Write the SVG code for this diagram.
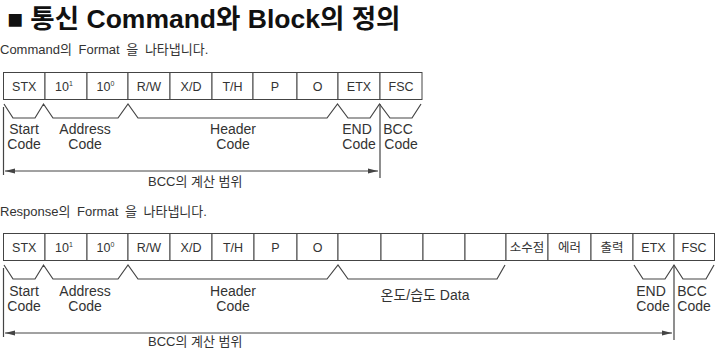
<svg xmlns="http://www.w3.org/2000/svg" width="715" height="350" viewBox="0 0 715 350">
<style>
  text { font-family: "Liberation Sans", "Noto Sans CJK KR", sans-serif; fill: #333; }
  .title { font-size: 26.5px; font-weight: bold; fill: #111; }
  .sub { font-size: 13px; word-spacing: 3px; }
  .cell rect { fill: #fff; stroke: #444; stroke-width: 1; }
  .cell text { font-size: 12.5px; text-anchor: middle; }
  .lbl { font-size: 14px; text-anchor: middle; }
  .rng { font-size: 13px; }
  .brace { fill: none; stroke: #444; stroke-width: 1.2; stroke-linejoin: miter; }
  .line { fill: none; stroke: #444; stroke-width: 1.2; }
  .arr { fill: none; stroke: #444; stroke-width: 1; }
</style>
<defs>
  <marker id="ah" viewBox="0 0 10 6" refX="10" refY="3" markerWidth="10" markerHeight="6" markerUnits="userSpaceOnUse" orient="auto-start-reverse">
    <path d="M0,0.5 L10,3 L0,5.5 Z" fill="#444"/>
  </marker>
</defs>

<text class="title" x="7" y="28">■ 통신 Command와 Block의 정의</text>
<text class="sub" x="0" y="54">Command의 Format 을 나타냅니다.</text>
<text class="sub" x="0" y="216">Response의 Format 을 나타냅니다.</text>

<!-- Command row -->
<g id="cmd-stx" class="cell"><rect x="3.5" y="72.5" width="41.5" height="27"/><text x="24.25" y="91">STX</text></g>
<g id="cmd-101" class="cell"><rect x="45" y="72.5" width="42" height="27"/><text x="64" y="91">10<tspan dy="-5" font-size="7">1</tspan></text></g>
<g id="cmd-100" class="cell"><rect x="87" y="72.5" width="41" height="27"/><text x="105.5" y="91">10<tspan dy="-5" font-size="7">0</tspan></text></g>
<g id="cmd-rw" class="cell"><rect x="128" y="72.5" width="42" height="27"/><text x="149" y="91">R/W</text></g>
<g id="cmd-xd" class="cell"><rect x="170" y="72.5" width="42" height="27"/><text x="191" y="91">X/D</text></g>
<g id="cmd-th" class="cell"><rect x="212" y="72.5" width="41" height="27"/><text x="232.5" y="91">T/H</text></g>
<g id="cmd-p" class="cell"><rect x="253" y="72.5" width="44" height="27"/><text x="275" y="91">P</text></g>
<g id="cmd-o" class="cell"><rect x="297" y="72.5" width="41" height="27"/><text x="317.5" y="91">O</text></g>
<g id="cmd-etx" class="cell"><rect x="338" y="72.5" width="42" height="27"/><text x="359" y="91">ETX</text></g>
<g id="cmd-fsc" class="cell"><rect x="380" y="72.5" width="42" height="27"/><text x="401" y="91">FSC</text></g>

<!-- Response row -->
<g id="rsp-stx" class="cell"><rect x="3.5" y="233.5" width="41.5" height="27"/><text x="24.25" y="252">STX</text></g>
<g id="rsp-101" class="cell"><rect x="45" y="233.5" width="42" height="27"/><text x="64" y="252">10<tspan dy="-5" font-size="7">1</tspan></text></g>
<g id="rsp-100" class="cell"><rect x="87" y="233.5" width="41" height="27"/><text x="105.5" y="252">10<tspan dy="-5" font-size="7">0</tspan></text></g>
<g id="rsp-rw" class="cell"><rect x="128" y="233.5" width="42" height="27"/><text x="149" y="252">R/W</text></g>
<g id="rsp-xd" class="cell"><rect x="170" y="233.5" width="42" height="27"/><text x="191" y="252">X/D</text></g>
<g id="rsp-th" class="cell"><rect x="212" y="233.5" width="42" height="27"/><text x="233" y="252">T/H</text></g>
<g id="rsp-p" class="cell"><rect x="254" y="233.5" width="43" height="27"/><text x="275.5" y="252">P</text></g>
<g id="rsp-o" class="cell"><rect x="297" y="233.5" width="41" height="27"/><text x="317.5" y="252">O</text></g>
<g id="rsp-d1" class="cell"><rect x="338" y="233.5" width="43" height="27"/></g>
<g id="rsp-d2" class="cell"><rect x="381" y="233.5" width="42" height="27"/></g>
<g id="rsp-d3" class="cell"><rect x="423" y="233.5" width="42" height="27"/></g>
<g id="rsp-d4" class="cell"><rect x="465" y="233.5" width="41" height="27"/></g>
<g id="rsp-dec" class="cell"><rect x="506" y="233.5" width="42" height="27"/><text x="527" y="252">소수점</text></g>
<g id="rsp-err" class="cell"><rect x="548" y="233.5" width="43" height="27"/><text x="569.5" y="252">에러</text></g>
<g id="rsp-out" class="cell"><rect x="591" y="233.5" width="42" height="27"/><text x="612" y="252">출력</text></g>
<g id="rsp-etx" class="cell"><rect x="633" y="233.5" width="41" height="27"/><text x="653.5" y="252">ETX</text></g>
<g id="rsp-fsc" class="cell"><rect x="674" y="233.5" width="40.5" height="27"/><text x="694" y="252">FSC</text></g>

<!-- Connectors: braces and range arrows -->
<g id="connectors">
  <path class="brace" d="M4,104 L13,118 L35,118 L43.5,104 L53,118 L118,118 L128,104 L138,118 L327,118 L337.5,104 L348,118 L370,118 L379.5,104 L390,118 L412,118 L421,104"/>
  <path class="line" d="M3.5,107 V175"/>
  <path class="line" d="M380,104 V178"/>
  <path class="arr" d="M5,171 H378" marker-start="url(#ah)" marker-end="url(#ah)"/>

  <path class="brace" d="M4,265 L13,279 L35,279 L43.5,265 L53,279 L118,279 L128,265 L138,279 L327,279 L338,265 L348,279 L497,279 L505,265"/>
  <path class="brace" d="M634,265 L643,279 L665,279 L674,265 L683,279 L706,279 L714,265"/>
  <path class="line" d="M3.5,268 V337"/>
  <path class="line" d="M674,265 V340"/>
  <path class="arr" d="M5,333 H672" marker-start="url(#ah)" marker-end="url(#ah)"/>
</g>

<!-- Labels -->
<g id="labels-cmd">
  <text class="lbl" x="24" y="134">Start</text><text class="lbl" x="24" y="149">Code</text>
  <text class="lbl" x="85" y="134">Address</text><text class="lbl" x="85" y="149">Code</text>
  <text class="lbl" x="233" y="134">Header</text><text class="lbl" x="233" y="149">Code</text>
  <text class="lbl" x="357" y="134">END</text><text class="lbl" x="359" y="149">Code</text>
  <text class="lbl" x="398" y="134">BCC</text><text class="lbl" x="401" y="149">Code</text>
  <text class="rng" x="148" y="186">BCC의 계산 범위</text>
</g>
<g id="labels-rsp">
  <text class="lbl" x="24" y="296">Start</text><text class="lbl" x="24" y="311">Code</text>
  <text class="lbl" x="85" y="296">Address</text><text class="lbl" x="85" y="311">Code</text>
  <text class="lbl" x="233" y="296">Header</text><text class="lbl" x="233" y="311">Code</text>
  <text class="lbl" x="425" y="300">온도/습도 Data</text>
  <text class="lbl" x="651" y="296">END</text><text class="lbl" x="653" y="311">Code</text>
  <text class="lbl" x="692" y="296">BCC</text><text class="lbl" x="694" y="311">Code</text>
  <text class="rng" x="148" y="346">BCC의 계산 범위</text>
</g>
</svg>
